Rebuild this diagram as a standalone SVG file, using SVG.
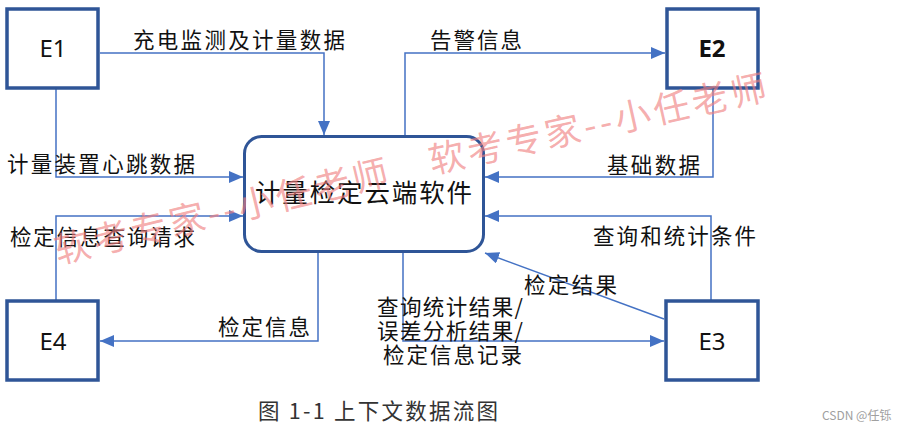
<svg xmlns="http://www.w3.org/2000/svg" width="904" height="430" viewBox="0 0 904 430">
<defs>
<marker id="arr" markerUnits="userSpaceOnUse" markerWidth="14" markerHeight="12" refX="14" refY="6" orient="auto">
<path d="M0,0 L14,6 L0,12 z" fill="#4472C4"/>
</marker>
<style>
.ent{fill:#fff;stroke:#2F5597;stroke-width:3.5}
.proc{fill:#fff;stroke:#2F5597;stroke-width:3}
.etxt{font-family:"Noto Sans","Noto Sans CJK SC",sans-serif;font-size:24px;fill:#111;text-anchor:middle;dominant-baseline:central}
.lbl{font-family:"Noto Sans CJK SC",sans-serif;font-size:21.5px;fill:#111;dominant-baseline:central}
.conn path{fill:none;stroke:#4472C4;stroke-width:1.5;marker-end:url(#arr)}
.wm{font-family:"Noto Sans CJK SC",sans-serif;font-size:36px;fill:#f07f7f;fill-opacity:0.65}
</style>
</defs>
<rect width="904" height="430" fill="#fff"/>

<g id="connectors" class="conn">
<path id="c1" d="M100,53 H324 V135"/>
<path id="c2" d="M405,135 V53 H665"/>
<path id="c3" d="M56,89 V177 H243"/>
<path id="c4" d="M56,300 V216 H243"/>
<path id="c5" d="M318,253 V341 H100"/>
<path id="c6" d="M403,253 V341 H664"/>
<path id="c7" d="M713,89 V177 H485"/>
<path id="c8" d="M711,300 V216 H485"/>
<path id="c9" d="M664,319 L485,253"/>
</g>

<g id="labels">
<text class="lbl" x="133" y="38" textLength="212" lengthAdjust="spacing">充电监测及计量数据</text>
<text class="lbl" x="430" y="38" textLength="92" lengthAdjust="spacing">告警信息</text>
<text class="lbl" x="7" y="162" textLength="188" lengthAdjust="spacing">计量装置心跳数据</text>
<text class="lbl" x="10" y="235" textLength="185" lengthAdjust="spacing">检定信息查询请求</text>
<text class="lbl" x="218" y="325" textLength="92" lengthAdjust="spacing">检定信息</text>
<text class="lbl" x="607" y="163" textLength="93" lengthAdjust="spacing">基础数据</text>
<text class="lbl" x="593" y="234" textLength="163" lengthAdjust="spacing">查询和统计条件</text>
<text class="lbl" x="524" y="283" textLength="93" lengthAdjust="spacing">检定结果</text>
<text class="lbl" x="377" y="305" textLength="146" lengthAdjust="spacing">查询统计结果/</text>
<text class="lbl" x="377" y="329" textLength="146" lengthAdjust="spacing">误差分析结果/</text>
<text class="lbl" x="383" y="353" textLength="139" lengthAdjust="spacing">检定信息记录</text>
</g>

<g id="E1">
<rect class="ent" x="7" y="9" width="91" height="79"/>
<text class="etxt" x="53" y="47">E1</text>
</g>
<g id="E2">
<rect class="ent" x="667" y="9" width="91" height="79"/>
<text class="etxt" x="712" y="47" font-weight="bold">E2</text>
</g>
<g id="E3">
<rect class="ent" x="666" y="301" width="92" height="79"/>
<text class="etxt" x="712" y="340">E3</text>
</g>
<g id="E4">
<rect class="ent" x="7" y="301" width="91" height="79"/>
<text class="etxt" x="53" y="340">E4</text>
</g>
<g id="P0">
<rect class="proc" x="244.5" y="136.5" width="239" height="115" rx="17"/>
<text class="lbl" x="255" y="190" style="font-size:25.5px" textLength="217" lengthAdjust="spacing">计量检定云端软件</text>
</g>

<text x="258" y="409" font-family="'Noto Sans CJK SC',sans-serif" font-size="21.5" fill="#333" dominant-baseline="central" textLength="240" lengthAdjust="spacing">图 1-1  上下文数据流图</text>
<text x="822" y="414" font-family="'Noto Sans CJK SC',sans-serif" font-size="12" fill="#a0a0a0" dominant-baseline="central">CSDN @任铄</text>

<g id="watermarks">
<text class="wm" transform="translate(58,264) rotate(-13.5)" textLength="342" lengthAdjust="spacing">软考专家--小任老师</text>
<text class="wm" transform="translate(432,174) rotate(-12.5)" textLength="345" lengthAdjust="spacing">软考专家--小任老师</text>
</g>
</svg>
